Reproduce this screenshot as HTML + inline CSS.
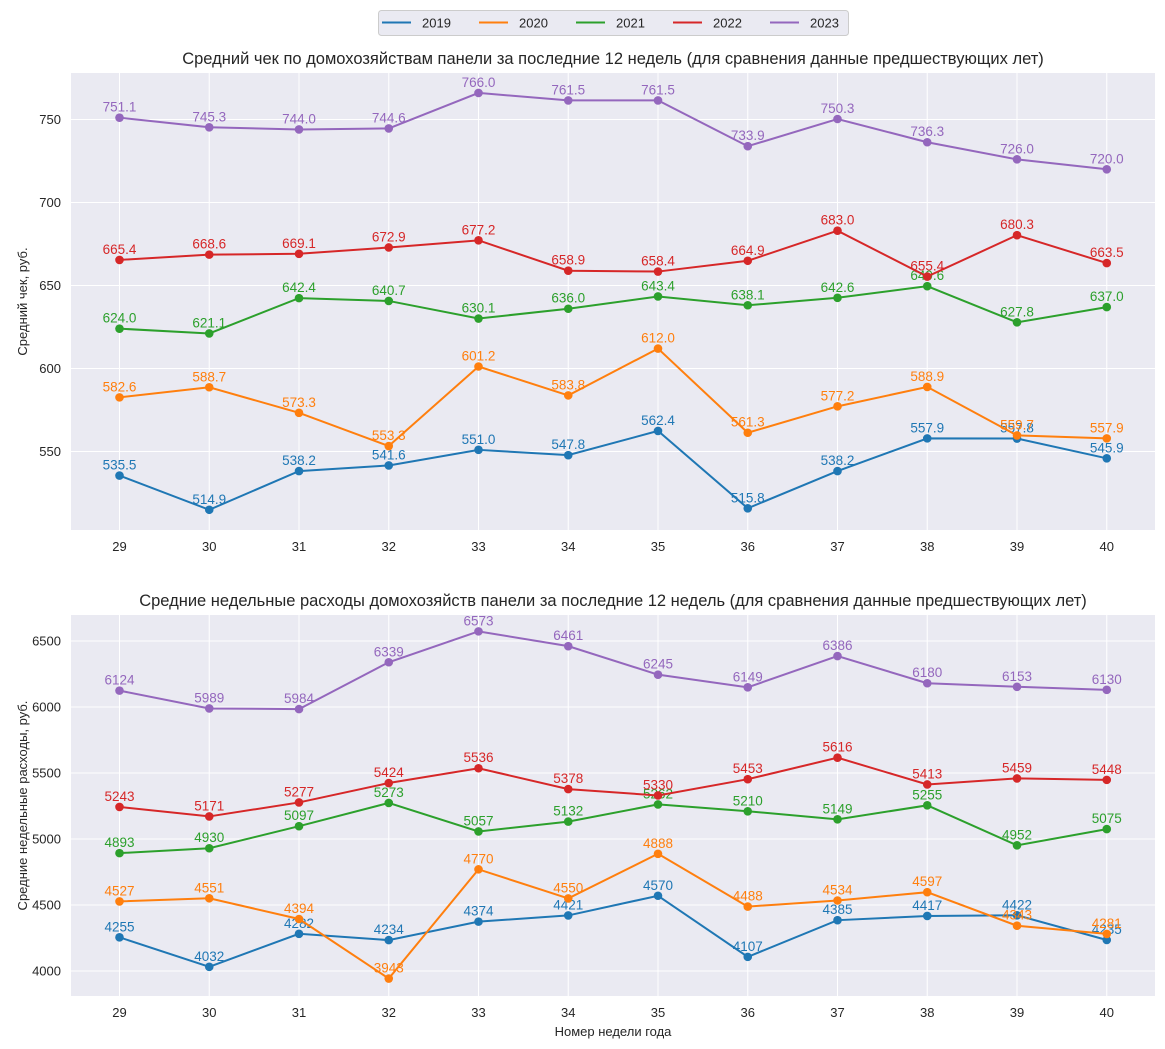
<!DOCTYPE html>
<html><head><meta charset="utf-8"><style>
html,body{margin:0;padding:0;background:#fff;}
svg{display:block;font-family:"Liberation Sans","DejaVu Sans",sans-serif;}
</style></head><body>
<svg id="s" width="1165" height="1049" xmlns="http://www.w3.org/2000/svg"></svg>
<script>
const S=document.getElementById('s');
let h='';
const C=['#1f77b4','#ff7f0e','#2ca02c','#d62728','#9467bd'];
const X=i=>119.5+i*89.75;
function panel(top,bot,yf,ticks,data,fmt,title,ylab){
  h+=`<rect x="71" y="${top}" width="1084" height="${bot-top}" fill="#eaeaf2"/>`;
  for(let i=0;i<12;i++){h+=`<line x1="${X(i)}" y1="${top}" x2="${X(i)}" y2="${bot}" stroke="#fff" stroke-width="1"/>`;
    h+=`<text x="${X(i)}" y="${bot+21}" font-size="13" text-anchor="middle" fill="#262626">${29+i}</text>`;}
  ticks.forEach(t=>{const y=yf(t);h+=`<line x1="71" y1="${y}" x2="1155" y2="${y}" stroke="#fff" stroke-width="1"/>`;
    h+=`<text x="61" y="${y+4.5}" font-size="13" text-anchor="end" fill="#262626">${t}</text>`;});
  h+=`<text x="613" y="${top-9}" font-size="16.5" text-anchor="middle" fill="#262626">${title}</text>`;
  const cy=(top+bot)/2;
  h+=`<text x="0" y="0" transform="translate(27,${cy}) rotate(-90)" font-size="13" text-anchor="middle" fill="#262626">${ylab}</text>`;
  data.forEach((d,k)=>{
    h+=`<polyline fill="none" stroke="${C[k]}" stroke-width="2" points="${d.map((v,i)=>X(i)+','+yf(v)).join(' ')}"/>`;
    d.forEach((v,i)=>{h+=`<circle cx="${X(i)}" cy="${yf(v)}" r="4.3" fill="${C[k]}"/>`;
      h+=`<text x="${X(i)}" y="${yf(v)-6}" font-size="13.5" text-anchor="middle" fill="${C[k]}">${fmt(v)}</text>`;});
  });
}
panel(73,530,v=>119.5+(750-v)*1.66,[550,600,650,700,750],[
[535.5,514.9,538.2,541.6,551.0,547.8,562.4,515.8,538.2,557.9,557.8,545.9],
[582.6,588.7,573.3,553.3,601.2,583.8,612.0,561.3,577.2,588.9,559.7,557.9],
[624.0,621.1,642.4,640.7,630.1,636.0,643.4,638.1,642.6,649.6,627.8,637.0],
[665.4,668.6,669.1,672.9,677.2,658.9,658.4,664.9,683.0,655.4,680.3,663.5],
[751.1,745.3,744.0,744.6,766.0,761.5,761.5,733.9,750.3,736.3,726.0,720.0]],v=>v.toFixed(1),
'Средний чек по домохозяйствам панели за последние 12 недель (для сравнения данные предшествующих лет)','Средний чек, руб.');
panel(615,996,v=>641+(6500-v)*0.132,[4000,4500,5000,5500,6000,6500],[
[4255,4032,4282,4234,4374,4421,4570,4107,4385,4417,4422,4235],
[4527,4551,4394,3943,4770,4550,4888,4488,4534,4597,4343,4281],
[4893,4930,5097,5273,5057,5132,5262,5210,5149,5255,4952,5075],
[5243,5171,5277,5424,5536,5378,5330,5453,5616,5413,5459,5448],
[6124,5989,5984,6339,6573,6461,6245,6149,6386,6180,6153,6130]],v=>String(v),
'Средние недельные расходы домохозяйств панели за последние 12 недель (для сравнения данные предшествующих лет)','Средние недельные расходы, руб.');
h+=`<text x="613" y="1036" font-size="13" text-anchor="middle" fill="#262626">Номер недели года</text>`;
h+=`<rect x="378.5" y="10.5" width="470" height="25" rx="3" fill="#eaeaf2" stroke="#cccccc"/>`;
['2019','2020','2021','2022','2023'].forEach((t,k)=>{const x=382+k*97;
  h+=`<line x1="${x}" y1="22.5" x2="${x+29}" y2="22.5" stroke="${C[k]}" stroke-width="2"/>`;
  h+=`<text x="${x+40}" y="27.5" font-size="13" fill="#262626">${t}</text>`;});
S.innerHTML=h;
</script>
</body></html>
